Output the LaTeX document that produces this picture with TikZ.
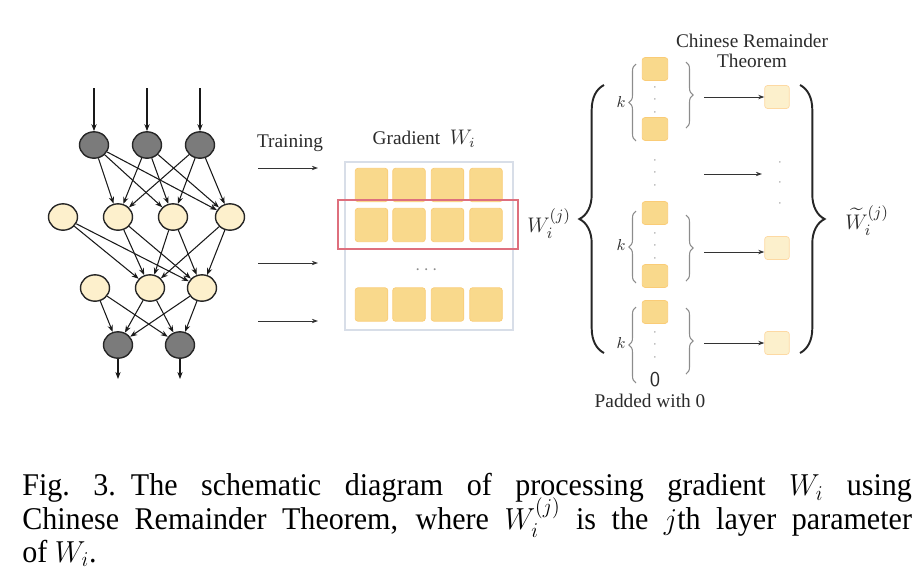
\documentclass[tikz,border=0pt]{standalone}
\usepackage{amsmath}
\usepackage{amssymb}
\usepackage{fontspec}
\setmainfont{Liberation Serif}
\usepackage{tikz}
\usetikzlibrary{positioning}
\usetikzlibrary{arrows.meta}
\usetikzlibrary{shapes.geometric}
\usetikzlibrary{decorations.pathreplacing}

\definecolor{darkfill}{HTML}{7B7B7B}
\definecolor{lightfill}{HTML}{FDF0CC}
\definecolor{gradfill}{HTML}{F9D98C}
\definecolor{resfill}{HTML}{FCF0CC}
\definecolor{boxline}{HTML}{D8DEE8}
\definecolor{redline}{HTML}{DE6F7D}
\definecolor{textgray}{HTML}{2B2B2B}
\definecolor{bracegray}{HTML}{8C8C8C}

\newcommand{\captionfont}{\fontsize{18}{19}\selectfont\lineskiplimit=-20pt\hyphenpenalty=10000}

\tikzset{
	darknode/.style={draw=black!85, fill=darkfill, ellipse, minimum width=16.5pt, minimum height=15pt, line width=0.8pt, inner sep=0pt},
	lightnode/.style={darknode, fill=lightfill},
	netarrow/.style={-{Stealth[length=4pt, width=3pt]}, line width=0.6pt, black!90},
	gradsq/.style={fill=gradfill, draw=gradfill!85!orange, rounded corners=1.5pt, minimum width=18.5pt, minimum height=19pt, inner sep=0pt},
	smallsq/.style={gradsq, minimum width=14.5pt, minimum height=13pt},
	ressq/.style={smallsq, fill=resfill, draw=resfill!80!orange, minimum width=14pt},
	bigbrace/.style={decorate, decoration={brace, amplitude=14pt}, line width=1.1pt, black!85},
	smallbrace/.style={decorate, decoration={brace, amplitude=4pt}, line width=0.6pt, bracegray},
	thinarrow/.style={-{Stealth[length=3.5pt, width=2.5pt]}, line width=0.5pt, black!80},
	lbl/.style={font=\fontsize{11}{13}\selectfont, text=textgray, inner sep=0pt},
	dotlbl/.style={font=\fontsize{7}{7}\selectfont, text=bracegray, inner sep=0pt, align=center},
	klbl/.style={font=\fontsize{9}{9}\selectfont, text=textgray, inner sep=0pt},
}

\begin{document}
\begin{tikzpicture}[x=0.02cm, y=-0.02cm]
	\useasboundingbox (0,0) rectangle (924,586);

	% network
	\node[darknode] (i1) at (94,145) {};
	\node[darknode] (i2) at (147,145) {};
	\node[darknode] (i3) at (200,145) {};
	\node[lightnode] (a1) at (63,217) {};
	\node[lightnode] (a2) at (118,217) {};
	\node[lightnode] (a3) at (173,217) {};
	\node[lightnode] (a4) at (230,217) {};
	\node[lightnode] (b1) at (95,288) {};
	\node[lightnode] (b2) at (150,288) {};
	\node[lightnode] (b3) at (202,288) {};
	\node[darknode] (o1) at (118,345) {};
	\node[darknode] (o2) at (180,345) {};
	\coordinate (in1) at (94,88);
	\coordinate (in2) at (147,88);
	\coordinate (in3) at (200,88);
	\coordinate (out1) at (118,379);
	\coordinate (out2) at (180,379);
	\foreach \n in {1,2,3}
		\draw[netarrow] (in\n) -- (i\n);
	\draw[netarrow] (o1) -- (out1);
	\draw[netarrow] (o2) -- (out2);
	\foreach \s in {1,2,3}
		\foreach \t in {2,3,4}
			\draw[netarrow] (i\s) -- (a\t);
	\foreach \s in {1,...,4}
		\foreach \t in {2,3}
			\draw[netarrow] (a\s) -- (b\t);
	\foreach \s in {1,2,3}
		\foreach \t in {1,2}
			\draw[netarrow] (b\s) -- (o\t);

	% training arrows
	\node[lbl] (training) at (290,143) {Training};
	\coordinate (ta1) at (258,168);
	\coordinate (tb1) at (318,168);
	\coordinate (ta2) at (258,263);
	\coordinate (tb2) at (318,263);
	\coordinate (ta3) at (258,321);
	\coordinate (tb3) at (318,321);
	\foreach \n in {1,2,3}
		\draw[thinarrow] (ta\n) -- (tb\n);

	% gradient matrix
	\node[lbl] (gradient) at (424,139) {Gradient\ \ {\fontsize{12}{12}\selectfont$W_{i}$}};
	\draw[boxline, line width=0.7pt] (345,162) rectangle (513,330);
	\foreach \r/\y in {1/185,2/225,3/304.5}
		\foreach \c/\x in {1/371.5,2/409,3/447.5,4/486}
			\node[gradsq] (g\r\c) at (\x,\y) {};
	\draw[redline, line width=0.9pt] (338,200) rectangle (518,249);
	\node[lbl, text=bracegray] (gdots) at (428,270) {$\cdots$};

	% layer parameter
	\node[lbl, font=\fontsize{13}{13}\selectfont] (wj) at (549,224) {$W_i^{(j)}$};
	\coordinate (lb1) at (604,353);
	\coordinate (lb2) at (604,85);
	\draw[bigbrace] (lb1) -- (lb2);

	\node[lbl, align=center] (crt) at (752,51) {Chinese Remainder\\[-1.5pt]Theorem};

	% group 1
	\node[smallsq] (s11) at (655,69) {};
	\node[smallsq] (s12) at (655,129) {};
	\node[dotlbl] (d1) at (655,100) {$\cdot$\\[0pt]$\cdot$\\[0pt]$\cdot$};
	\node[klbl] (k1) at (621,102) {$k$};
	\draw[smallbrace] (636,141) -- (636,64);
	\draw[smallbrace] (686,62) -- (686,128);
	\coordinate (r1) at (704,97);
	\node[ressq] (res1) at (777,97) {};
	\draw[thinarrow] (r1) -- (res1);

	% middle dots
	\node[dotlbl] (dm) at (655,173) {$\cdot$\\[0pt]$\cdot$\\[0pt]$\cdot$};
	\coordinate (rm) at (704,174);
	\node[dotlbl] (resdots) at (780,183) {$\cdot$\\[4.5pt]$\cdot$\\[4.5pt]$\cdot$};
	\coordinate (rmend) at (762,174);
	\draw[thinarrow] (rm) -- (rmend);

	% group 2
	\node[smallsq] (s21) at (655,213) {};
	\node[smallsq] (s22) at (655,276) {};
	\node[dotlbl] (d2) at (655,246) {$\cdot$\\[0pt]$\cdot$\\[0pt]$\cdot$};
	\node[klbl] (k2) at (621,245) {$k$};
	\draw[smallbrace] (636,283) -- (636,211);
	\draw[smallbrace] (686,215) -- (686,281);
	\coordinate (r2) at (704,252);
	\node[ressq] (res2) at (777,248) {};
	\draw[thinarrow] (r2) -- (res2.west |- r2);

	% group 3
	\node[smallsq] (s31) at (655,312) {};
	\node[dotlbl] (d3) at (655,345) {$\cdot$\\[0pt]$\cdot$\\[0pt]$\cdot$};
	\node[font=\sffamily\fontsize{12}{12}\selectfont, text=textgray, inner sep=0pt] (zero) at (655,380) {0};
	\node[klbl] (k3) at (621,343) {$k$};
	\draw[smallbrace] (636,383) -- (636,307);
	\draw[smallbrace] (686,308) -- (686,374);
	\coordinate (r3) at (704,343);
	\node[ressq] (res3) at (777,343) {};
	\draw[thinarrow] (r3) -- (res3);
	\node[lbl] (padded) at (650,401) {Padded with 0};

	% result
	\coordinate (rb1) at (800,85);
	\coordinate (rb2) at (800,353);
	\draw[bigbrace] (rb1) -- (rb2);
	\node[lbl, font=\fontsize{13}{13}\selectfont] (wt) at (867,221) {$\widetilde{W}_i^{(j)}$};

	% caption
	\node[anchor=north west, inner sep=0pt, text width=533pt, align=justify, xscale=0.95,
		font=\captionfont] (caption) at (22,473)
		{Fig.~3.\hspace{0.5em}The schematic diagram of processing gradient $W_i$ using\linebreak
		Chinese Remainder Theorem, where $W_i^{(j)}$ is the $j$th layer parameter\linebreak
		of $W_i$.};
\end{tikzpicture}
\end{document}
